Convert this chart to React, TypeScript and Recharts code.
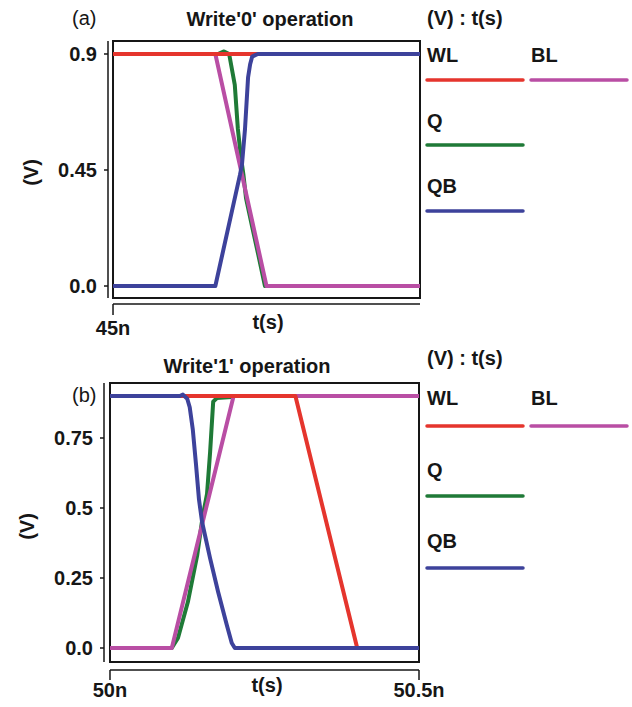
import React from "react";
import { LineChart, Line, XAxis, YAxis, ReferenceArea, ReferenceLine } from "recharts";

const FONT = '"Liberation Sans", Arial, Helvetica, sans-serif';
const INK = "#161616";

const WL_COLOR = "#e5352d";
const BL_COLOR = "#b94ea4";
const Q_COLOR = "#1f7a37";
const QB_COLOR = "#3d429b";

// (a) Write'0' operation, time in ns
const w0WlT = [45, 45.6];
const w0WlV = [0.9, 0.9];
const w0BlT = [45, 45.2, 45.3, 45.6];
const w0BlV = [0.9, 0.9, 0, 0];
const w0QT = [45, 45.205, 45.217, 45.227, 45.238, 45.244, 45.25, 45.255, 45.26, 45.272, 45.283, 45.297, 45.6];
const w0QV = [0.9, 0.9, 0.91, 0.9, 0.78, 0.61, 0.5, 0.43, 0.34, 0.23, 0.13, 0, 0];
const w0QbT = [45, 45.2, 45.248, 45.252, 45.258, 45.264, 45.268, 45.272, 45.283, 45.6];
const w0QbV = [0, 0, 0.43, 0.47, 0.61, 0.81, 0.86, 0.89, 0.9, 0.9];
const w0XTicks = [45];
const w0YTicks = [0, 0.45, 0.9];

// (b) Write'1' operation
const w1WlT = [50, 50.3, 50.4, 50.5];
const w1WlV = [0.9, 0.9, 0, 0];
const w1BlT = [50, 50.1, 50.2, 50.5];
const w1BlV = [0, 0, 0.9, 0.9];
const w1QT = [50, 50.1, 50.11, 50.126, 50.141, 50.15, 50.157, 50.162, 50.167, 50.173, 50.197, 50.2, 50.5];
const w1QV = [0, 0, 0.036, 0.164, 0.33, 0.47, 0.55, 0.7, 0.88, 0.893, 0.896, 0.9, 0.9];
const w1QbT = [50, 50.113, 50.118, 50.125, 50.129, 50.134, 50.139, 50.144, 50.149, 50.154, 50.162, 50.175, 50.189, 50.197, 50.202, 50.5];
const w1QbV = [0.9, 0.9, 0.905, 0.89, 0.86, 0.78, 0.66, 0.53, 0.45, 0.4, 0.32, 0.2, 0.082, 0.018, 0, 0];
const w1XTicks = [50, 50.5];
const w1YTicks = [0, 0.25, 0.5, 0.75];

type Series = { name: string; color: string; t: number[]; v: number[] };

const toPoints = (t: number[], v: number[]) => t.map((x, i) => ({ t: x, v: v[i] }));
const fmtV = (v: number) => (v === 0 ? "0.0" : String(v));
const fmtT = (v: number) => `${v}n`;

function VLabel({ viewBox, x0 }: any) {
  const cy = viewBox.y + viewBox.height / 2;
  return (
    <text
      x={x0}
      y={cy}
      transform={`rotate(-90, ${x0}, ${cy})`}
      textAnchor="middle"
      dominantBaseline="central"
      fontFamily={FONT}
      fontWeight={700}
      fontSize={20}
      fill={INK}
    >
      (V)
    </text>
  );
}

function TLabel({ viewBox, cx, gap }: any) {
  return (
    <text
      x={cx}
      y={viewBox.y + gap}
      textAnchor="middle"
      dominantBaseline="hanging"
      fontFamily={FONT}
      fontWeight={700}
      fontSize={20}
      fill={INK}
    >
      t(s)
    </text>
  );
}

type PanelProps = {
  height: number;
  plot: { left: number; right: number; top: number; bottom: number };
  xDomain: [number, number];
  yDomain: [number, number];
  frame: { x1: number; x2: number; y1: number; y2: number };
  xTicks: number[];
  yTicks: number[];
  xTickSize: number;
  xTickMargin: number;
  tLabel: { cx: number; gap: number };
  vLabelX: number;
  series: Series[];
};

function Panel(p: PanelProps) {
  const tickStyle = { fontSize: 20, fontWeight: 700, fill: INK, fontFamily: FONT };
  return (
    <LineChart
      width={632}
      height={p.height}
      margin={{ top: p.plot.top, right: 632 - p.plot.right, bottom: 0, left: 0 }}
    >
      <XAxis
        type="number"
        dataKey="t"
        domain={p.xDomain}
        allowDataOverflow
        ticks={p.xTicks}
        tickFormatter={fmtT}
        axisLine={false}
        tickLine={{ stroke: INK, strokeWidth: 1.5 }}
        tickSize={p.xTickSize}
        tickMargin={p.xTickMargin}
        tick={tickStyle}
        height={p.height - p.plot.bottom}
        interval={0}
        label={<TLabel cx={p.tLabel.cx} gap={p.tLabel.gap} />}
      />
      <YAxis
        type="number"
        domain={p.yDomain}
        allowDataOverflow
        ticks={p.yTicks}
        tickFormatter={fmtV}
        axisLine={false}
        tickLine={{ stroke: INK, strokeWidth: 1.5 }}
        tickSize={4}
        tickMargin={7}
        tick={tickStyle}
        width={p.plot.left}
        interval={0}
        label={<VLabel x0={p.vLabelX} />}
      />
      <ReferenceArea
        x1={p.frame.x1}
        x2={p.frame.x2}
        y1={p.frame.y1}
        y2={p.frame.y2}
        fill="none"
        stroke={INK}
        strokeWidth={2}
        ifOverflow="visible"
      />
      <ReferenceLine
        segment={[
          { x: p.xDomain[0], y: p.frame.y1 },
          { x: p.xDomain[0], y: p.yDomain[1] },
        ]}
        stroke={INK}
        strokeWidth={1.5}
        ifOverflow="visible"
      />
      <ReferenceLine
        segment={[
          { x: p.frame.x1, y: p.yDomain[0] },
          { x: p.frame.x2, y: p.yDomain[0] },
        ]}
        stroke={INK}
        strokeWidth={1.5}
        ifOverflow="visible"
      />
      {p.series.map((s) => (
        <Line
          key={s.name}
          data={toPoints(s.t, s.v)}
          dataKey="v"
          type="linear"
          stroke={s.color}
          strokeWidth={4}
          strokeLinejoin="round"
          dot={false}
          activeDot={false}
          isAnimationActive={false}
        />
      ))}
    </LineChart>
  );
}

function Legend({ rows }: { rows: { wl: number; wlLine: number; q: number; qLine: number; qb: number; qbLine: number; head: number } }) {
  const txt = { fontFamily: FONT, fontWeight: 700, fontSize: 20, fill: INK } as const;
  const seg = (y: number, x1: number, x2: number, c: string) => (
    <line x1={x1} x2={x2} y1={y} y2={y} stroke={c} strokeWidth={3.5} strokeLinecap="round" />
  );
  return (
    <g>
      <text x={427} y={rows.head} {...txt}>(V) : t(s)</text>
      <text x={427} y={rows.wl} {...txt}>WL</text>
      <text x={531} y={rows.wl} {...txt}>BL</text>
      {seg(rows.wlLine, 427, 523, WL_COLOR)}
      {seg(rows.wlLine, 531, 627, BL_COLOR)}
      <text x={427} y={rows.q} {...txt}>Q</text>
      {seg(rows.qLine, 427, 523, Q_COLOR)}
      <text x={427} y={rows.qb} {...txt}>QB</text>
      {seg(rows.qbLine, 427, 523, QB_COLOR)}
    </g>
  );
}

export default function App() {
  const topSeries: Series[] = [
    { name: "Q", color: Q_COLOR, t: w0QT, v: w0QV },
    { name: "BL", color: BL_COLOR, t: w0BlT, v: w0BlV },
    { name: "WL", color: WL_COLOR, t: w0WlT, v: w0WlV },
    { name: "QB", color: QB_COLOR, t: w0QbT, v: w0QbV },
  ];
  const botSeries: Series[] = [
    { name: "Q", color: Q_COLOR, t: w1QT, v: w1QV },
    { name: "BL", color: BL_COLOR, t: w1BlT, v: w1BlV },
    { name: "WL", color: WL_COLOR, t: w1WlT, v: w1WlV },
    { name: "QB", color: QB_COLOR, t: w1QbT, v: w1QbV },
  ];

  return (
    <div style={{ position: "fixed", left: 0, top: 0, width: 632, height: 707, background: "#fff", fontFamily: FONT }}>
      <div style={{ position: "absolute", left: 0, top: 0 }}>
        <Panel
          height={340}
          plot={{ left: 108, right: 420, top: 41, bottom: 304 }}
          xDomain={[44.9902, 45.6]}
          yDomain={[-0.0698, 0.9504]}
          frame={{ x1: 45, x2: 45.6, y1: -0.0466, y2: 0.9504 }}
          xTicks={w0XTicks}
          yTicks={w0YTicks}
          xTickSize={11}
          xTickMargin={6}
          tLabel={{ cx: 268, gap: 11 }}
          vLabelX={31}
          series={topSeries}
        />
        <svg width={632} height={340} style={{ position: "absolute", left: 0, top: 0, pointerEvents: "none" }}>
          <text x={72} y={25} fontFamily={FONT} fontSize={20} fill={INK}>(a)</text>
          <text x={270} y={26} textAnchor="middle" fontFamily={FONT} fontWeight={700} fontSize={20} fill={INK}>
            Write'0' operation
          </text>
          <Legend rows={{ head: 25, wl: 62, wlLine: 80, q: 128, qLine: 145, qb: 193, qbLine: 211 }} />
        </svg>
      </div>
      <div style={{ position: "absolute", left: 0, top: 340 }}>
        <Panel
          height={367}
          plot={{ left: 104, right: 419, top: 43, bottom: 330 }}
          xDomain={[49.9903, 50.5]}
          yDomain={[-0.07857, 0.94643]}
          frame={{ x1: 50, x2: 50.5, y1: -0.05, y2: 0.94643 }}
          xTicks={w1XTicks}
          yTicks={w1YTicks}
          xTickSize={10}
          xTickMargin={3}
          tLabel={{ cx: 267, gap: 8 }}
          vLabelX={27}
          series={botSeries}
        />
        <svg width={632} height={367} style={{ position: "absolute", left: 0, top: 0, pointerEvents: "none" }}>
          <text x={247} y={33} textAnchor="middle" fontFamily={FONT} fontWeight={700} fontSize={20} fill={INK}>
            Write'1' operation
          </text>
          <text x={72} y={62} fontFamily={FONT} fontSize={20} fill={INK}>(b)</text>
          <Legend rows={{ head: 25, wl: 65, wlLine: 86, q: 137, qLine: 156, qb: 208, qbLine: 228 }} />
        </svg>
      </div>
    </div>
  );
}
